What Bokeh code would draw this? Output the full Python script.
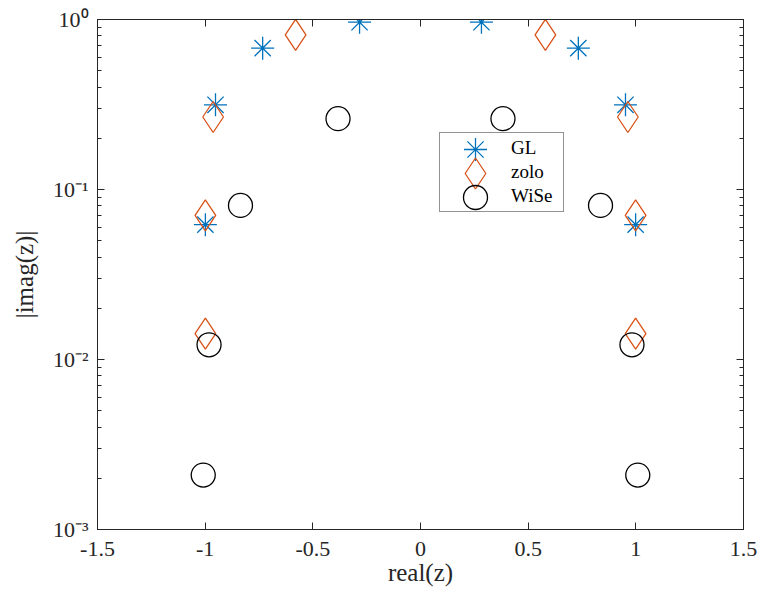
from bokeh.plotting import figure
from bokeh.models import (Range1d, LinearAxis, LogAxis, FixedTicker, LogTicker, LinearScale,
                          Legend, LegendItem, CustomJSTickFormatter)
from bokeh.embed import file_html
from bokeh.resources import INLINE

# ---------------- data ----------------
gl_re = [-0.999, -0.952, -0.733, -0.283, 0.283, 0.733, 0.952, 0.999]
gl_im = [0.0621, 0.315, 0.678, 0.964, 0.964, 0.678, 0.315, 0.0621]

zolo_re = [-0.999, -0.999, -0.963, -0.580, 0.580, 0.963, 0.999, 0.999]
zolo_im = [0.0142, 0.0704, 0.267, 0.813, 0.813, 0.267, 0.0704, 0.0142]

wise_re = [-1.009, -0.982, -0.836, -0.383, 0.383, 0.836, 0.982, 1.009]
wise_im = [0.00209, 0.0122, 0.0806, 0.261, 0.261, 0.0806, 0.0122, 0.00209]

series_names = ["GL", "zolo", "WiSe"]

x_ticks = [-1.5, -1, -0.5, 0, 0.5, 1, 1.5]
x_tick_labels = ["-1.5", "-1", "-0.5", "0", "0.5", "1", "1.5"]
y_ticks = [1e-3, 1e-2, 1e-1, 1e0]
y_tick_labels = ["10\u207b\u00b3", "10\u207b\u00b2", "10\u207b\u00b9", "10\u2070"]
x_title = "real(z)"
y_title = "|imag(z)|"

# ---------------- styles / layout ----------------
AX = "#262626"
BLUE = "#0072BD"
ORANGE = "#D95319"
FONT = "Liberation Serif"
XLO, XHI = -1.5, 1.5
YLO, YHI = 1e-3, 1.0
W, H = 758, 595
ML, MR, MT, MB = 97, 15, 19, 66
FW, FH = W - ML - MR, H - MT - MB

p = figure(width=W, height=H, x_range=Range1d(XLO, XHI), y_range=Range1d(YLO, YHI),
           y_axis_type="log", output_backend="svg", toolbar_location=None,
           min_border_left=ML, min_border_right=MR, min_border_top=MT, min_border_bottom=MB)
p.background_fill_color = "white"
p.border_fill_color = "white"
p.outline_line_color = AX
p.outline_line_width = 1
p.grid.visible = False

# pixel coordinate system inside the frame (x from left, y from top), for the legend keys
p.extra_x_ranges = {"px": Range1d(0, FW)}
p.extra_y_ranges = {"px": Range1d(FH, 0)}
p.extra_x_scales = {"px": LinearScale()}
p.extra_y_scales = {"px": LinearScale()}

blank = CustomJSTickFormatter(code="return '';")


def lookup_formatter(vals, labs):
    return CustomJSTickFormatter(args=dict(tvals=vals, tlabs=labs), code="""
const i = tvals.findIndex(t => Math.abs(t - tick) <= 1e-9 * Math.max(1, Math.abs(t)));
return i >= 0 ? tlabs[i] : '';
""")


xaxis = p.xaxis[0]
xaxis.ticker = FixedTicker(ticks=x_ticks, minor_ticks=[])
xaxis.formatter = lookup_formatter(x_ticks, x_tick_labels)
xaxis.major_label_standoff = 12
xaxis.axis_label = x_title
xaxis.axis_label_standoff = 0

yaxis = p.yaxis[0]
yaxis.ticker = LogTicker(num_minor_ticks=10)
yaxis.formatter = lookup_formatter(y_ticks, y_tick_labels)
yaxis.major_label_standoff = 9
yaxis.axis_label = y_title
yaxis.axis_label_standoff = 12

for ax in [xaxis, yaxis]:
    ax.major_label_text_font = FONT
    ax.major_label_text_font_size = "22px"
    ax.major_label_text_color = AX
    ax.axis_label_text_font = FONT
    ax.axis_label_text_font_size = "25px"
    ax.axis_label_text_font_style = "normal"
    ax.axis_label_text_color = AX

top = LinearAxis(ticker=FixedTicker(ticks=x_ticks, minor_ticks=[]), formatter=blank)
p.add_layout(top, "above")
right = LogAxis(ticker=LogTicker(num_minor_ticks=10), formatter=blank)
p.add_layout(right, "right")
for ax in [top, right]:
    ax.major_label_text_font_size = "0px"
    ax.major_label_standoff = 0

for ax in [xaxis, yaxis, top, right]:
    ax.axis_line_color = AX
    ax.axis_line_width = 1
    ax.major_tick_line_color = AX
    ax.minor_tick_line_color = AX
    ax.major_tick_in = 7
    ax.major_tick_out = 0
    ax.minor_tick_in = 4
    ax.minor_tick_out = 0

# ---------------- markers ----------------
GL_STYLE = dict(marker="asterisk", size=23, line_color=BLUE, line_width=1.3)
ZO_STYLE = dict(marker="diamond", size=31, line_color=ORANGE, fill_color=None, line_width=1.3)
WI_STYLE = dict(marker="circle", size=24, line_color="black", fill_color=None, line_width=1.3)

r_gl = p.scatter(gl_re, gl_im, **GL_STYLE)
r_zo = p.scatter(zolo_re, zolo_im, **ZO_STYLE)
r_wi = p.scatter(wise_re, wise_im, **WI_STYLE)

# ---------------- legend ----------------
LEG_LEFT, LEG_BOTTOM = 342, 317          # frame pixels from bottom-left
LEG_H, ROW_H, PAD_L, PAD_T = 78, 24, 36, 3
legend = Legend(items=[LegendItem(label=series_names[0], renderers=[r_gl]),
                       LegendItem(label=series_names[1], renderers=[r_zo]),
                       LegendItem(label=series_names[2], renderers=[r_wi])],
                location=(LEG_LEFT, LEG_BOTTOM),
                padding=dict(left=PAD_L, right=9, top=PAD_T, bottom=PAD_T), spacing=0,
                glyph_width=0, glyph_height=ROW_H, label_standoff=35,
                label_width=43, label_height=ROW_H, margin=0,
                border_line_color=AX, border_line_width=1,
                background_fill_alpha=0.0,
                label_text_font=FONT, label_text_font_size="19px",
                label_text_color="black")
p.add_layout(legend)

# legend keys at the full marker sizes (the legend box is see-through)
leg_top = FH - LEG_BOTTOM - LEG_H
for i, st in enumerate([GL_STYLE, ZO_STYLE, WI_STYLE]):
    p.scatter([LEG_LEFT + PAD_L], [leg_top + PAD_T + ROW_H / 2 + i * ROW_H],
              x_range_name="px", y_range_name="px", **st)

open("out.html", "w").write(file_html(p, INLINE))
